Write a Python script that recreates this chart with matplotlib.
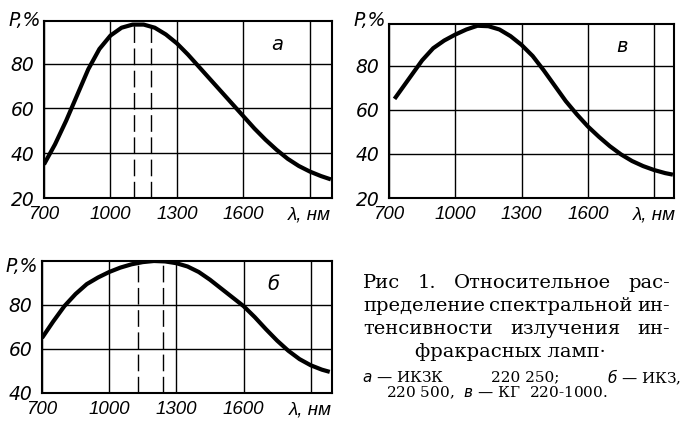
import numpy as np
import matplotlib.pyplot as plt

# кривая а - ИКЗК 220-250
lam_a = [700, 750, 800, 850, 900, 950, 1000, 1050, 1100, 1150, 1200, 1250, 1300,
         1350, 1400, 1450, 1500, 1550, 1600, 1650, 1700, 1750, 1800, 1850, 1900, 1950, 1995]
p_a = [35, 44, 54.5, 66, 77.5, 86.5, 92.5, 96, 97.4, 97.4, 96, 93, 89,
       84, 78.5, 73, 67.5, 62, 56.5, 51, 46, 41.5, 37.5, 34.3, 31.8, 29.8, 28.3]

# кривая б - ИКЗ 220-500
lam_b = [700, 750, 800, 850, 900, 950, 1000, 1050, 1100, 1150, 1200, 1250, 1300,
         1350, 1400, 1450, 1500, 1550, 1600, 1650, 1700, 1750, 1800, 1850, 1900, 1950, 1985]
p_b = [65, 72.5, 79.5, 85, 89.5, 92.5, 95, 97, 98.5, 99.5, 100, 99.8, 99,
       97.5, 95, 91.5, 87.5, 83.5, 79.5, 74.5, 69, 63.8, 59.2, 55.4, 52.6, 50.6, 49.6]

# кривая в - КГ 220-1000
lam_v = [725, 750, 800, 850, 900, 950, 1000, 1050, 1100, 1150, 1200, 1250, 1300,
         1350, 1400, 1450, 1500, 1550, 1600, 1650, 1700, 1750, 1800, 1850, 1900, 1950, 1985]
p_v = [65, 68.5, 75.5, 82.5, 88, 91.5, 94.2, 96.5, 98.2, 98, 96.5, 93.5, 89.5,
       84.5, 78, 71, 64, 58, 52.5, 47.8, 43.5, 39.8, 36.8, 34.5, 32.7, 31.3, 30.6]

dash_a = [1105, 1185]
dash_b = [1128, 1242]

xticks = [700, 1000, 1300, 1600, 1900]
xlabels = ['700', '1000', '1300', '1600', 'λ, нм']

W, H = 683, 421
fig = plt.figure(figsize=(W / 100, H / 100), dpi=100)


def fx(x):
    return x / W


def fy(y):
    return 1 - y / H


def panel(l, t, r, b, lam, p, ylim, yticks, xmax, dashes):
    ax = fig.add_axes([fx(l), fy(b), (r - l) / W, (b - t) / H])
    ax.plot(lam, p, color='black', lw=3, solid_capstyle='butt', zorder=3)
    for d in dashes:
        ax.axvline(d, color='black', lw=1, dashes=(12, 4))
    ax.set_xlim(700, xmax)
    ax.set_ylim(*ylim)
    ax.set_xticks(xticks)
    ax.set_xticklabels(xlabels, family='Liberation Sans', style='italic', fontsize=13.5)
    ax.set_yticks(yticks)
    ax.set_yticklabels([str(v) for v in yticks], family='DejaVu Sans',
                       style='italic', fontsize=13.5)
    ax.grid(True, color='black', lw=1)
    ax.tick_params(axis='x', length=0, pad=6)
    ax.tick_params(axis='y', length=0, pad=7)
    for s in ax.spines.values():
        s.set_linewidth(1.5)
    return ax


panel(44, 21, 332, 198, lam_a, p_a, (20, 99), [20, 40, 60, 80], 2000, dash_a)
panel(389, 24, 674, 198, lam_v, p_v, (20, 99), [20, 40, 60, 80], 1990, [])
panel(42, 261, 332, 393, lam_b, p_b, (40, 100), [40, 60, 80], 1995, dash_b)

# подписи осей P,% и буквы
for x, y in [(25, 21), (370, 20), (22, 266)]:
    fig.text(fx(x), fy(y), 'P,%', family='DejaVu Sans', style='italic',
             fontsize=13.5, ha='center', va='center')
for x, y, s in [(277, 44, 'а'), (622, 47, 'в'), (273, 284, 'б')]:
    fig.text(fx(x), fy(y), s, family='DejaVu Sans', style='italic',
             fontsize=14, ha='center', va='center')

cap_fam = 'DejaVu Serif'


def justify(parts, x0, x1, y, size):
    r = fig.canvas.get_renderer()
    ts = [fig.text(0, fy(y), s, family=cap_fam, fontsize=size,
                   ha='left', va='center') for s in parts]
    ws = [t.get_window_extent(r).width for t in ts]
    gap = (x1 - x0 - sum(ws)) / (len(ts) - 1)
    x = x0
    for t, w in zip(ts, ws):
        t.set_x(fx(x))
        x += w + gap


justify(['Рис', '1.', 'Относительное', 'рас-'], 363, 670, 283, 14)
justify(['пределение', 'спектральной', 'ин-'], 363, 670, 306, 14)
justify(['тенсивности', 'излучения', 'ин-'], 363, 670, 329, 14)
fig.text(fx(510), fy(352), 'фракрасных ламп·', family=cap_fam, fontsize=14,
         ha='center', va='center')
justify(['$\\it{а}$ — ИКЗК', '220 250;', '$\\it{б}$ — ИКЗ,'], 362, 681, 377, 11)
fig.text(fx(497), fy(393), '220 500,  $\\it{в}$ — КГ  220-1000.', family=cap_fam,
         fontsize=11, ha='center', va='center')

fig.savefig('out.png', dpi=100)
